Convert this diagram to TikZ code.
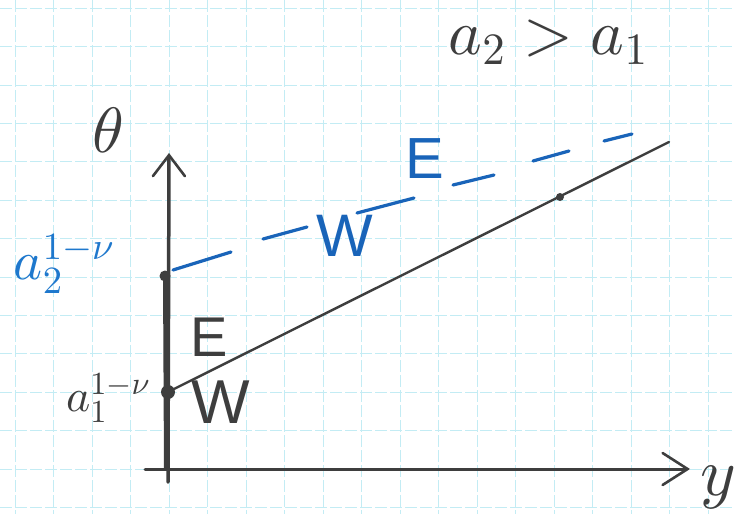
\documentclass[tikz,border=0pt]{standalone}
\usepackage[no-math]{fontspec}
\setmainfont{Liberation Sans}
\DeclareFontShape{OML}{cmm}{m}{it}{<-> cmmi10}{}
\DeclareFontShape{OMS}{cmsy}{m}{n}{<-> cmsy10}{}
\DeclareFontShape{OT1}{cmr}{m}{n}{<-> cmr10}{}
\usetikzlibrary{arrows.meta}
\definecolor{ink}{RGB}{62,62,62}
\definecolor{bink}{RGB}{25,100,185}
\definecolor{blabel}{RGB}{30,120,205}
\definecolor{gridc}{RGB}{195,236,244}
\tikzset{
  gridline/.style={gridc, line width=1pt, dash pattern=on 12pt off 3pt},
  axisline/.style={ink, line width=3.5pt, line cap=round},
  curveline/.style={ink, line width=2.4pt, line cap=round},
  bluedash/.style={bink, line width=3.2pt, line cap=round},
  dotmark/.style={circle, fill=ink, inner sep=0pt},
  lbl/.style={inner sep=0pt},
  barb/.style={-{Straight Barb[length=#1, width=32pt, line width=2.6pt, line cap=round]}},
}
\begin{document}
\begin{tikzpicture}[x=1pt,y=-1pt]
\useasboundingbox[fill=white] (0,0) rectangle (735,514);
% grid paper
\foreach \i in {0,...,18} \draw[gridline] ({15+38.5*\i},0) -- ({15+38.5*\i},514);
\foreach \j in {0,...,13} \draw[gridline] (0,{8.3+38.4*\j}) -- (735,{8.3+38.4*\j});
% axes
\coordinate (vbot) at (168,482);
\coordinate (vtop) at (169,153);
\coordinate (hleft) at (145,469);
\coordinate (hright) at (690,469);
\draw[axisline, barb=21pt] (vbot) -- (vtop);
\draw[ink, line width=6pt] (167,470) -- (166,276);
\draw[axisline, line width=3pt, barb=25pt] (hleft) -- (hright);
% dots
\node[dotmark, minimum size=11pt] (d2) at (165,276) {};
\node[dotmark, minimum size=14pt] (d1) at (168,392) {};
% black line
\coordinate (lend) at (669,142);
\draw[curveline] (d1.center) -- (lend);
\node[dotmark, minimum size=8pt] (m1) at (560,197) {};
% blue dashed line
\draw[bluedash] (173,270) -- (231,252) (263,239) -- (307,227) (357,213) -- (414,198)
  (453,185) -- (494,175) (533,161) -- (569,151) (604,141) -- (632,134);
% labels
\node[lbl, text=blabel, font=\fontsize{55}{60}\selectfont] (la2) at (64,264) {$a_2^{1-\nu}$};
\node[lbl, text=ink, font=\fontsize{46}{50}\selectfont] (la1) at (108,398) {$a_1^{1-\nu}$};
\node[lbl, text=ink, font=\fontsize{64}{70}\selectfont] (th) at (108,130) {$\theta$};
\node[lbl, text=ink, font=\fontsize{68}{72}\selectfont] (yl) at (718,487) {$y$};
\node[lbl, text=ink, font=\fontsize{64}{68}\selectfont] (top) at (548,42) {$a_2>a_1$};
\node[lbl, text=ink, font=\fontsize{56}{60}\selectfont] (e1) at (209,337) {E};
\node[lbl, text=ink, font=\fontsize{62}{66}\selectfont] (w1) at (221,402) {W};
\node[lbl, text=bink, font=\fontsize{60}{64}\selectfont] (w2) at (345,236) {W};
\node[lbl, text=bink, font=\fontsize{58}{62}\selectfont] (e2) at (425,159) {E};
\end{tikzpicture}
\end{document}
